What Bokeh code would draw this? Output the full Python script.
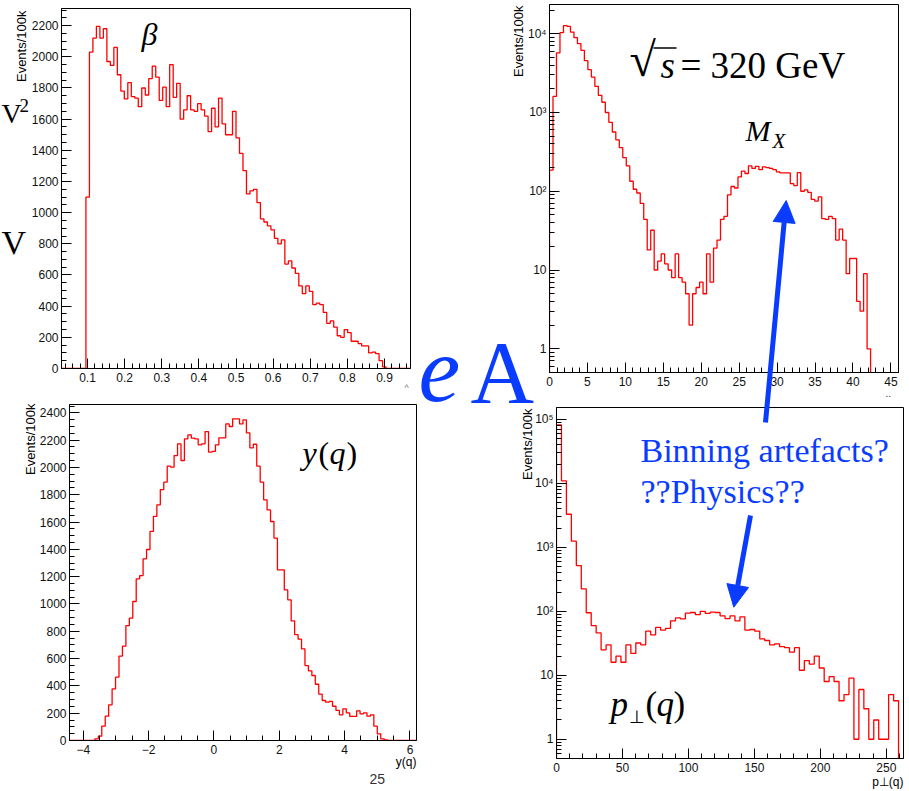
import math
from bokeh.plotting import figure
from bokeh.models import (Label, Arrow, NormalHead, SingleIntervalTicker, FixedTicker,
                          CustomJSTickFormatter, Range1d, GridBox)
from bokeh.embed import file_html
from bokeh.resources import INLINE

# ---------------- data ----------------
# beta: 100 bins over [0.03, 0.97]
beta_range = (0.03, 0.97)
beta_counts = [0, 0, 0, 0, 0, 0, 0,
               1100, 2030, 2120, 2195, 2120, 2180, 1970, 1945, 2060, 1885,
               1780, 1730, 1835, 1745, 1735, 1680, 1800, 1755, 1860, 1940,
               1870, 1720, 1805, 1680, 1950, 1740, 1830, 1600, 1660, 1750,
               1660, 1650, 1700, 1660, 1620, 1520, 1670, 1550, 1735, 1570,
               1500, 1500, 1650, 1480, 1380, 1270, 1120, 1140, 1150, 1065,
               960, 940, 915, 890, 835, 800, 825, 670, 690, 645,
               610, 530, 480, 530, 495, 410, 420, 410, 360, 290,
               305, 265, 210, 200, 250, 230, 175, 175, 160, 145,
               145, 100, 105, 95, 50, 10,
               0, 0, 0, 0, 0, 0, 0]

# M_X: 100 bins over [0, 46]
mx_range = (0.0, 46.0)
mx_counts = [185, 1600, 5700, 10300, 12700, 12400, 10500, 8900, 7500, 6150,
             4550, 3500, 2820, 2150, 1650, 1350, 1000, 750, 565, 450,
             358, 267, 210, 134, 106, 95, 70, 44, 18, 32,
             10, 13, 16, 12, 10, 8, 16, 8, 7, 5,
             2, 5, 6, 7, 5, 16, 7, 19, 24, 44,
             48, 90, 115, 110, 152, 180, 168, 210, 195, 207,
             188, 204, 200, 195, 188, 176, 171, 171, 171, 125,
             118, 172, 100, 104, 97, 79, 75, 85, 45, 44,
             48, 45, 24, 33, 24, 9, 14, 14, 4, 3,
             9, 1, 0, 0, 0, 0, 0, 0, 0, 0]

# y(q): bins covering [-3.643, 5.316], axis [-4.42, 6.2]
yq_axis = (-4.42, 6.2)
yq_range = (-3.643, 5.316)
yq_counts = [12, 32, 105, 178, 261, 378, 464, 618, 691, 842,
             896, 1018, 1184, 1208, 1331, 1399, 1531, 1641, 1726, 1838,
             1892, 2009, 2002, 2087, 2173, 2051, 2209, 2239, 2214, 2209,
             2166, 2173, 2263, 2112, 2117, 2166, 2217, 2217, 2319, 2300,
             2356, 2356, 2319, 2349, 2253, 2144, 2170, 2009, 1892, 1763,
             1689, 1604, 1482, 1250, 1250, 1103, 1030, 876, 776, 742,
             671, 549, 510, 476, 412, 339, 293, 281, 286, 251,
             220, 188, 232, 203, 176, 176, 217, 195, 203, 178,
             188, 105, 49, 12, 5]

# p_perp(q): 70 bins over [0, 263]
pt_range = (0.0, 263.0)
pt_counts = [82000, 11000, 3300, 1250, 520, 225, 95, 60, 46, 25,
             30, 16, 20, 16, 30, 22, 32, 30, 49, 43,
             56, 51, 54, 71, 79, 76, 94, 96, 89, 100,
             93, 97, 96, 85, 77, 85, 71, 82, 51, 52,
             49, 37, 35, 30, 31, 28, 27, 23, 27, 12,
             17, 15, 20, 13, 8, 9.5, 8, 4, 5, 9,
             1, 6, 3, 1, 2, 1, 1, 5, 4, 0]

log_major = [1, 10, 100, 1000, 10000, 100000]
log_minor = [m * 10 ** e for e in range(-1, 6) for m in range(2, 10)]

BLUE = "#0a3cff"
RED = "#ff0000"
SERIF = "Liberation Serif"
SANS = "Liberation Sans"

LOG_FMT = CustomJSTickFormatter(code="""
const e = Math.round(Math.log10(tick));
if (e <= 0) return '1';
if (e == 1) return '10';
const s = {2: '\u00b2', 3: '\u00b3', 4: '\u2074', 5: '\u2075'};
return '10' + s[e];
""")


def panel(canvas, frame, xr, yr, ylog=False):
    cx, cy, cw, ch = canvas
    fl, fr, ft, fb = frame
    p = figure(width=cw, height=ch, x_range=Range1d(*xr), y_range=Range1d(*yr),
               y_axis_type="log" if ylog else "linear", output_backend="svg",
               toolbar_location=None,
               min_border_left=fl - cx, min_border_right=cx + cw - fr,
               min_border_top=ft - cy, min_border_bottom=cy + ch - fb)
    p.frame_align = False
    p.title.visible = False
    p.grid.visible = False
    p.outline_line_color = "black"
    p.outline_line_width = 1
    p.background_fill_color = "white"
    p.border_fill_color = "white"
    for ax in (p.xaxis[0], p.yaxis[0]):
        ax.major_tick_in = 10
        ax.major_tick_out = 0
        ax.minor_tick_in = 5
        ax.minor_tick_out = 0
        ax.axis_line_color = "black"
        ax.major_tick_line_color = "black"
        ax.minor_tick_line_color = "black"
        ax.major_label_text_font = SANS
        ax.major_label_text_font_size = "12px"
        ax.major_label_text_color = "#111111"
    p.xaxis[0].major_label_standoff = 4
    p.yaxis[0].major_label_standoff = 3
    return p


def hist(p, lo, hi, counts, xmin, xmax, floor=0.0):
    n = len(counts)
    w = (hi - lo) / n
    edges = [lo + w * i for i in range(n + 1)]
    vals = [c if c > 0 else floor for c in counts]
    xs = [xmin] + edges + [xmax]
    ys = [floor] + vals + [floor, floor]
    p.step(xs, ys, mode="after", line_color=RED, line_width=1.3)


# ---------------- top-left: beta ----------------
tl = panel((0, 0, 415, 403), (61, 410, 8, 368), beta_range, (0, 2310))
tl.xaxis[0].ticker = SingleIntervalTicker(interval=0.1, num_minor_ticks=5)
tl.yaxis[0].ticker = SingleIntervalTicker(interval=200, num_minor_ticks=4)
hist(tl, beta_range[0], beta_range[1], beta_counts, beta_range[0], beta_range[1])

# ---------------- top-right: M_X ----------------
tr = panel((415, 0, 494, 403), (549, 898, 4, 372), mx_range, (0.5, 23500), ylog=True)
tr.xaxis[0].ticker = SingleIntervalTicker(interval=5, num_minor_ticks=5)
tr.yaxis[0].ticker = FixedTicker(ticks=log_major, minor_ticks=log_minor)
tr.yaxis[0].formatter = LOG_FMT
hist(tr, mx_range[0], mx_range[1], mx_counts, mx_range[0], mx_range[1], floor=0.01)

# ---------------- bottom-left: y(q) ----------------
bl = panel((0, 403, 490, 388), (69, 416, 404, 740), yq_axis, (0, 2461))
bl.xaxis[0].ticker = SingleIntervalTicker(interval=2, num_minor_ticks=4)
bl.xaxis[0].formatter = CustomJSTickFormatter(
    code="return (tick < 0 ? '\u2212' : '') + Math.abs(tick).toFixed(0);")
bl.yaxis[0].ticker = SingleIntervalTicker(interval=200, num_minor_ticks=4)
hist(bl, yq_range[0], yq_range[1], yq_counts, yq_axis[0], yq_axis[1])

# ---------------- bottom-right: p_perp(q) ----------------
br = panel((490, 403, 419, 388), (556, 903, 407, 758), pt_range, (0.5, 154000), ylog=True)
br.xaxis[0].ticker = SingleIntervalTicker(interval=50, num_minor_ticks=5)
br.yaxis[0].ticker = FixedTicker(ticks=log_major, minor_ticks=log_minor)
br.yaxis[0].formatter = LOG_FMT
hist(br, pt_range[0], pt_range[1], pt_counts, pt_range[0], pt_range[1], floor=0.01)

# ---------------- transparent overlay for slide texts and arrows ----------------
ov = figure(width=909, height=791, x_range=Range1d(0, 909), y_range=Range1d(791, 0),
            output_backend="svg", toolbar_location=None,
            x_axis_location=None, y_axis_location=None,
            min_border_left=0, min_border_right=0, min_border_top=0, min_border_bottom=0)
ov.frame_align = False
ov.title.visible = False
ov.grid.visible = False
ov.outline_line_color = None
ov.background_fill_color = None
ov.border_fill_color = None


def lab(px, py, text, size, font=SERIF, style="normal", color="black", align="left"):
    k = 0.346 if font == SANS else 0.338
    ov.add_layout(Label(x=px, y=py - k * size, text=text, text_font=font,
                        text_font_size=f"{size}px", text_font_style=style,
                        text_color=color, text_align=align, text_baseline="middle"))


def vlab(px, ptop, text, size=13):
    ov.add_layout(Label(x=px, y=ptop, text=text, text_font=SANS,
                        text_font_size=f"{size}px", text_color="black",
                        text_align="right", text_baseline="middle", angle=math.pi / 2))


# axis titles
for x, top in ((21, 10), (518, 5), (30, 403), (527, 408)):
    vlab(x, top, "Events/100k")
lab(416, 766, "y(q)", 12, font=SANS, align="right")
lab(903, 786, "p⊥(q)", 12, font=SANS, align="right")
lab(404, 391, "^", 9, font=SANS, color="#777777")
lab(885, 396, "..", 10, font=SANS, color="#333333")

# big slide labels
lab(141, 44, "β", 32, style="italic")
lab(629, 75, "√", 48)
ov.add_layout(Arrow(x_start=653, y_start=47.5, x_end=676, y_end=47.5,
                    end=None, line_color="black", line_width=1.6))
lab(660, 78, "s", 37, style="italic")
lab(680, 78, "= 320 GeV", 37)
lab(745, 140, "M", 30, style="italic")
lab(772, 148, "X", 21, style="italic")
lab(302, 463, "y", 32, style="italic")
lab(318, 463, "(", 32)
lab(329, 463, "q", 32, style="italic")
lab(346, 463, ")", 32)
lab(610, 716, "p", 35, style="italic")
lab(628, 723, "⊥", 18)
lab(645, 716, "(", 35)
lab(656, 716, "q", 35, style="italic")
lab(673, 716, ")", 35)
lab(369, 783, "25", 14, font=SANS, color="#333333")

# fragments of slide text at the left edge
lab(1, 122, "V", 28)
lab(19, 111, "2", 19)
lab(1, 253, "V", 34)

# blue annotations
lab(418, 402, "e", 94, style="italic", color=BLUE)
lab(470, 402, "A", 88, color=BLUE)
lab(640, 461, "Binning artefacts?", 34, color=BLUE)
lab(640, 502, "??Physics??", 34, color=BLUE)
ov.add_layout(Arrow(x_start=765, y_start=422, x_end=785.7, y_end=200,
                    line_color=BLUE, line_width=5,
                    end=NormalHead(size=22, fill_color=BLUE, line_color=BLUE)))
ov.add_layout(Arrow(x_start=750, y_start=515, x_end=733.3, y_end=606.7,
                    line_color=BLUE, line_width=5,
                    end=NormalHead(size=22, fill_color=BLUE, line_color=BLUE)))

grid = GridBox(children=[(tl, 0, 0, 1, 1), (tr, 0, 1, 1, 2),
                         (bl, 1, 0, 1, 2), (br, 1, 2, 1, 1),
                         (ov, 0, 0, 2, 3)],
               rows=["403px", "388px"], cols=["415px", "75px", "419px"], spacing=0)
open("out.html", "w", encoding="utf-8").write(file_html(grid, INLINE))
